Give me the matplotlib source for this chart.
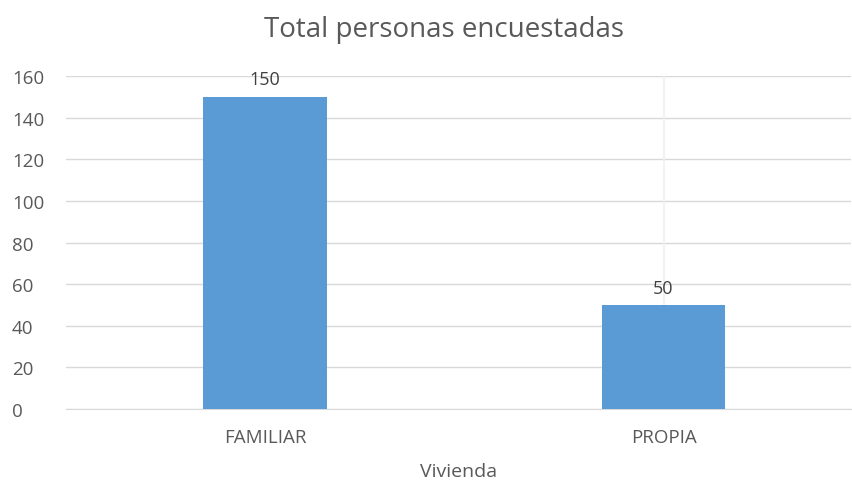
import matplotlib
matplotlib.use("Agg")
import matplotlib.pyplot as plt

categories = ["FAMILIAR", "PROPIA"]
values = [150, 50]
yticks = [0, 20, 40, 60, 80, 100, 120, 140, 160]

plt.rcParams['font.family'] = ['Open Sans', 'DejaVu Sans']
fig = plt.figure(figsize=(8.53, 4.85), dpi=100)
ax = fig.add_axes([0.0774, 0.1546, 0.92, 0.6866])

x = list(range(len(categories)))
ax.bar(x, values, width=0.31, color='#5b9bd5', zorder=3)
for xi, v in zip(x, values):
    ax.annotate(str(v), (xi, v), xytext=(0, 6), textcoords='offset points',
                ha='center', va='bottom', fontsize=13, color='#404040')

ax.axvline(1, color='#f0f0f0', lw=1.2, zorder=1)
ax.set_ylim(0, 160)
ax.set_yticks(yticks)
ax.set_xlim(-0.5, 1.47)
ax.set_xticks(x)
ax.set_xticklabels(categories)
ax.yaxis.grid(True, color='#d9d9d9', lw=1, zorder=0)
ax.set_axisbelow(True)
for s in ['top', 'right', 'left']:
    ax.spines[s].set_visible(False)
ax.spines['bottom'].set_color('#d9d9d9')
ax.tick_params(axis='both', length=0, colors='#595959', labelsize=13.5)
ax.tick_params(axis='y', pad=39)
ax.tick_params(axis='x', pad=14)
for lab in ax.get_yticklabels():
    lab.set_horizontalalignment('left')
ax.set_xlabel('Vivienda', fontsize=14, color='#595959', labelpad=11)
fig.text(0.52, 0.938, 'Total personas encuestadas', ha='center', va='center',
         fontsize=20, color='#595959')
fig.savefig('out.png', dpi=100)
